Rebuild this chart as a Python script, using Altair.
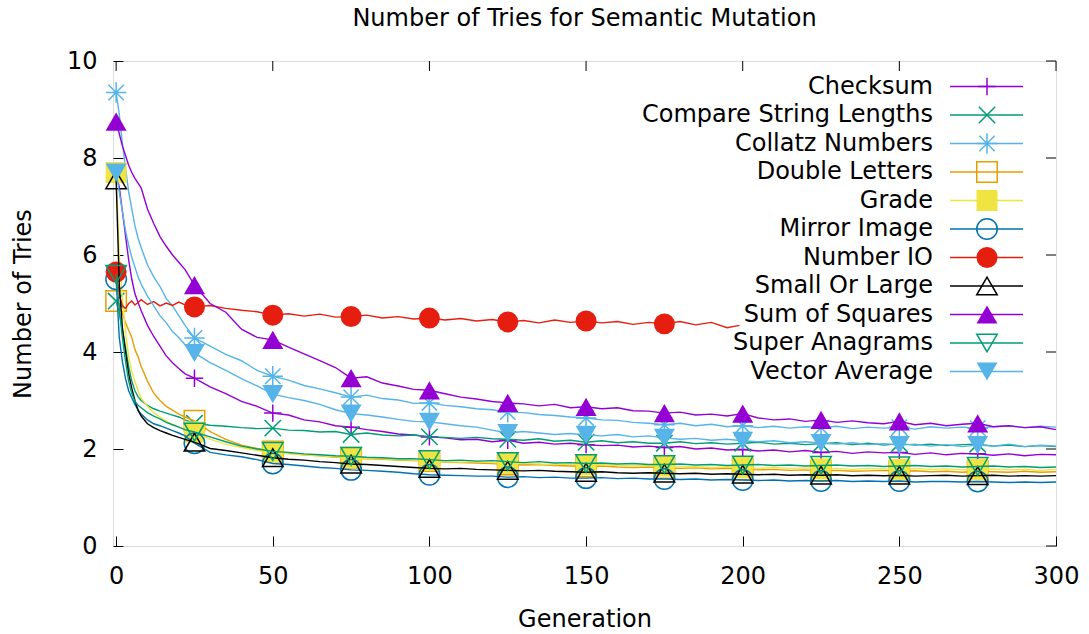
import altair as alt
import pandas as pd

# Generations at which the averaged number of tries was sampled
GENS = [0, 1, 2, 3, 4, 5, 6, 7, 8, 10, 12, 14, 16, 18, 20, 22,
        25, 30, 35, 40, 45, 50, 55, 60, 65, 70, 75, 80, 85, 90, 95, 100,
        105, 110, 115, 120, 125, 130, 135, 140, 145, 150, 155, 160, 165, 170, 175, 180,
        185, 190, 195, 200, 205, 210, 215, 220, 225, 230, 235, 240, 245, 250, 255, 260,
        265, 270, 275, 280, 285, 290, 295, 300]
# Number IO was only run for 200 generations (0..199)
NUMBER_IO_GENS = [0, 1, 2, 3, 4, 5, 6, 7, 8, 10, 12, 14, 16, 18, 20, 22,
                  25, 30, 35, 40, 45, 50, 55, 60, 65, 70, 75, 80, 85, 90, 95, 100,
                  105, 110, 115, 120, 125, 130, 135, 140, 145, 150, 155, 160, 165, 170, 175, 180,
                  185, 190, 195, 199]

CHECKSUM = [7.70, 7.40, 6.90, 6.40, 5.90, 5.50, 5.20, 5.02, 4.85, 4.55, 4.32, 4.12, 3.92, 3.78, 3.66, 3.55,
            3.46, 3.28, 3.14, 2.98, 2.88, 2.74, 2.70, 2.60, 2.56, 2.48, 2.45, 2.40, 2.36, 2.31, 2.29, 2.25,
            2.23, 2.19, 2.20, 2.15, 2.18, 2.12, 2.14, 2.10, 2.12, 2.09, 2.07, 2.08, 2.04, 2.06, 2.03, 2.05,
            2.00, 2.02, 1.98, 1.99, 1.96, 1.98, 1.94, 1.97, 1.93, 1.95, 1.91, 1.94, 1.92, 1.93, 1.89, 1.92,
            1.88, 1.91, 1.90, 1.87, 1.90, 1.86, 1.89, 1.88]
COMPARE_STRING_LENGTHS = [5.05, 4.80, 4.45, 4.10, 3.70, 3.40, 3.20, 3.08, 3.00, 2.90, 2.83, 2.78, 2.74, 2.70, 2.66, 2.60,
                          2.53, 2.49, 2.47, 2.44, 2.42, 2.43, 2.39, 2.38, 2.35, 2.36, 2.30, 2.33, 2.29, 2.27, 2.29, 2.25,
                          2.24, 2.22, 2.24, 2.21, 2.20, 2.18, 2.21, 2.16, 2.18, 2.14, 2.17, 2.13, 2.15, 2.12, 2.12, 2.15,
                          2.11, 2.13, 2.10, 2.12, 2.14, 2.10, 2.12, 2.09, 2.11, 2.13, 2.09, 2.12, 2.08, 2.11, 2.08, 2.10,
                          2.07, 2.09, 2.10, 2.06, 2.08, 2.05, 2.07, 2.05]
COLLATZ_NUMBERS = [9.35, 8.90, 8.30, 7.80, 7.30, 6.95, 6.60, 6.35, 6.15, 5.80, 5.55, 5.35, 5.10, 4.95, 4.75, 4.55,
                   4.29, 4.12, 3.95, 3.82, 3.62, 3.50, 3.42, 3.31, 3.24, 3.16, 3.07, 3.11, 3.04, 3.01, 2.94, 2.95,
                   2.90, 2.87, 2.83, 2.81, 2.76, 2.75, 2.71, 2.69, 2.66, 2.64, 2.60, 2.59, 2.55, 2.53, 2.50, 2.53,
                   2.48, 2.51, 2.46, 2.48, 2.44, 2.47, 2.43, 2.46, 2.44, 2.47, 2.42, 2.45, 2.43, 2.45, 2.41, 2.46,
                   2.43, 2.45, 2.43, 2.46, 2.48, 2.44, 2.47, 2.45]
DOUBLE_LETTERS = [5.05, 4.95, 4.80, 4.60, 4.45, 4.30, 4.05, 3.90, 3.70, 3.40, 3.15, 3.00, 2.88, 2.80, 2.72, 2.66,
                  2.58, 2.36, 2.20, 2.08, 2.01, 1.95, 1.91, 1.88, 1.86, 1.83, 1.82, 1.80, 1.79, 1.77, 1.76, 1.75,
                  1.73, 1.72, 1.71, 1.70, 1.68, 1.67, 1.68, 1.66, 1.65, 1.64, 1.65, 1.63, 1.62, 1.63, 1.61, 1.60,
                  1.61, 1.59, 1.60, 1.58, 1.57, 1.58, 1.56, 1.57, 1.55, 1.56, 1.54, 1.55, 1.56, 1.54, 1.55, 1.53,
                  1.54, 1.52, 1.54, 1.53, 1.52, 1.54, 1.52, 1.53]
GRADE = [7.70, 6.00, 5.10, 4.40, 3.90, 3.60, 3.40, 3.20, 3.05, 2.88, 2.75, 2.66, 2.58, 2.50, 2.45, 2.40,
         2.35, 2.20, 2.10, 2.03, 1.97, 1.94, 1.90, 1.88, 1.86, 1.84, 1.82, 1.80, 1.80, 1.78, 1.77, 1.76,
         1.74, 1.73, 1.74, 1.72, 1.70, 1.71, 1.69, 1.68, 1.69, 1.67, 1.68, 1.66, 1.65, 1.66, 1.65, 1.63,
         1.64, 1.62, 1.63, 1.62, 1.60, 1.62, 1.60, 1.61, 1.59, 1.60, 1.58, 1.60, 1.59, 1.58, 1.60, 1.58,
         1.59, 1.57, 1.58, 1.59, 1.57, 1.58, 1.56, 1.58]
MIRROR_IMAGE = [5.50, 4.30, 3.80, 3.45, 3.20, 3.05, 2.92, 2.80, 2.72, 2.60, 2.52, 2.48, 2.43, 2.38, 2.33, 2.27,
                2.12, 1.93, 1.88, 1.84, 1.78, 1.70, 1.68, 1.65, 1.62, 1.60, 1.57, 1.56, 1.54, 1.52, 1.49, 1.47,
                1.46, 1.45, 1.44, 1.44, 1.42, 1.43, 1.41, 1.42, 1.40, 1.40, 1.41, 1.39, 1.40, 1.38, 1.38, 1.37,
                1.38, 1.36, 1.37, 1.36, 1.35, 1.36, 1.34, 1.35, 1.34, 1.35, 1.33, 1.34, 1.33, 1.34, 1.32, 1.33,
                1.33, 1.32, 1.33, 1.32, 1.31, 1.32, 1.31, 1.32]
NUMBER_IO = [5.65, 5.20, 4.95, 4.90, 5.00, 5.05, 4.97, 5.02, 5.08, 4.98, 5.04, 4.95, 5.01, 4.96, 5.03, 4.97,
             4.93, 4.96, 4.90, 4.86, 4.83, 4.76, 4.79, 4.74, 4.78, 4.72, 4.73, 4.76, 4.70, 4.73, 4.68, 4.70,
             4.66, 4.69, 4.64, 4.67, 4.62, 4.65, 4.60, 4.66, 4.61, 4.64, 4.60, 4.63, 4.57, 4.61, 4.58, 4.63,
             4.56, 4.61, 4.50, 4.55]
SMALL_OR_LARGE = [7.55, 5.40, 4.50, 4.00, 3.55, 3.25, 3.00, 2.80, 2.68, 2.52, 2.44, 2.38, 2.33, 2.28, 2.24, 2.20,
                  2.14, 2.01, 1.97, 1.92, 1.87, 1.82, 1.79, 1.77, 1.74, 1.72, 1.69, 1.68, 1.66, 1.64, 1.62, 1.60,
                  1.59, 1.60, 1.58, 1.57, 1.56, 1.55, 1.56, 1.54, 1.53, 1.52, 1.53, 1.51, 1.50, 1.51, 1.50, 1.49,
                  1.50, 1.48, 1.49, 1.48, 1.47, 1.48, 1.46, 1.47, 1.46, 1.47, 1.45, 1.46, 1.45, 1.46, 1.44, 1.45,
                  1.46, 1.44, 1.45, 1.46, 1.44, 1.45, 1.44, 1.45]
SUM_OF_SQUARES = [8.75, 8.50, 8.25, 8.05, 7.85, 7.70, 7.58, 7.48, 7.38, 6.95, 6.65, 6.38, 6.18, 6.00, 5.85, 5.70,
                  5.38, 5.00, 4.82, 4.47, 4.30, 4.25, 4.10, 3.96, 3.82, 3.68, 3.46, 3.49, 3.36, 3.30, 3.23, 3.21,
                  3.14, 3.07, 3.03, 2.98, 2.95, 2.93, 2.89, 2.92, 2.85, 2.87, 2.83, 2.85, 2.79, 2.78, 2.74, 2.76,
                  2.70, 2.72, 2.68, 2.73, 2.64, 2.60, 2.62, 2.57, 2.60, 2.55, 2.58, 2.54, 2.52, 2.57, 2.50, 2.53,
                  2.48, 2.51, 2.53, 2.46, 2.48, 2.44, 2.46, 2.40]
SUPER_ANAGRAMS = [5.60, 4.90, 4.30, 3.80, 3.40, 3.15, 2.98, 2.90, 2.85, 2.75, 2.68, 2.62, 2.55, 2.50, 2.45, 2.40,
                  2.35, 2.25, 2.15, 2.06, 2.00, 1.95, 1.93, 1.90, 1.88, 1.86, 1.85, 1.83, 1.82, 1.80, 1.80, 1.78,
                  1.76, 1.77, 1.75, 1.76, 1.74, 1.72, 1.74, 1.71, 1.72, 1.70, 1.71, 1.69, 1.70, 1.68, 1.68, 1.69,
                  1.67, 1.68, 1.66, 1.67, 1.68, 1.66, 1.67, 1.65, 1.66, 1.67, 1.65, 1.66, 1.64, 1.65, 1.66, 1.64,
                  1.65, 1.63, 1.64, 1.65, 1.63, 1.64, 1.62, 1.63]
VECTOR_AVERAGE = [7.70, 7.30, 6.90, 6.50, 6.20, 5.95, 5.75, 5.55, 5.40, 5.15, 4.95, 4.75, 4.60, 4.42, 4.30, 4.15,
                  3.98, 3.78, 3.62, 3.45, 3.30, 3.13, 3.06, 3.00, 2.92, 2.81, 2.73, 2.70, 2.66, 2.61, 2.57, 2.56,
                  2.52, 2.48, 2.45, 2.39, 2.33, 2.36, 2.33, 2.30, 2.32, 2.29, 2.27, 2.30, 2.25, 2.27, 2.23, 2.20,
                  2.22, 2.18, 2.20, 2.17, 2.15, 2.17, 2.13, 2.15, 2.12, 2.10, 2.13, 2.09, 2.11, 2.08, 2.10, 2.06,
                  2.09, 2.05, 2.08, 2.06, 2.10, 2.05, 2.08, 2.06]

SERIES = ["Checksum", "Compare String Lengths", "Collatz Numbers", "Double Letters", "Grade",
          "Mirror Image", "Number IO", "Small Or Large", "Sum of Squares", "Super Anagrams",
          "Vector Average"]
SERIES_VALUES = [CHECKSUM, COMPARE_STRING_LENGTHS, COLLATZ_NUMBERS, DOUBLE_LETTERS, GRADE,
                 MIRROR_IMAGE, NUMBER_IO, SMALL_OR_LARGE, SUM_OF_SQUARES, SUPER_ANAGRAMS,
                 VECTOR_AVERAGE]
SERIES_GENS = [GENS, GENS, GENS, GENS, GENS, GENS, NUMBER_IO_GENS, GENS, GENS, GENS, GENS]
COLORS = ["#9400d3", "#009e73", "#56b4e9", "#e69f00", "#f0e442",
          "#0072b2", "#e51e10", "#000000", "#9400d3", "#009e73", "#56b4e9"]

# point glyphs: plus, cross, asterisk drawn as stroked paths
PLUS = "M-0.85,0H0.85M0,-0.85V0.85"
XMARK = "M-0.8,-0.8L0.8,0.8M-0.8,0.8L0.8,-0.8"
STAR = "M-1,0H1M0,-1V1M-0.75,-0.75L0.75,0.75M-0.75,0.75L0.75,-0.75"
SHAPES = [PLUS, XMARK, STAR, "square", "square", "circle", "circle",
          "triangle-up", "triangle-up", "triangle-down", "triangle-down"]
FILLED = ["Grade", "Number IO", "Sum of Squares", "Vector Average"]
OPEN = [s for s in SERIES if s not in FILLED]

X_TICKS = [0, 50, 100, 150, 200, 250, 300]
Y_TICKS = [0, 2, 4, 6, 8, 10]

FONT = "DejaVu Sans"
W, H = 943, 485

rows = []
for name, gens, vals in zip(SERIES, SERIES_GENS, SERIES_VALUES):
    for g, v in zip(gens, vals):
        rows.append({"series": name, "gen": g, "tries": v})
df = pd.DataFrame(rows)

legend_df = pd.DataFrame({"series": SERIES, "row": list(range(len(SERIES)))})

x_axis = alt.Axis(values=X_TICKS, format="d", title="Generation", tickSize=10, offset=-10,
                  domain=False, grid=False, labelFontSize=24, titleFontSize=24,
                  labelFont=FONT, titleFont=FONT, labelColor="black", titleColor="black",
                  tickColor="black", tickWidth=1, titleFontWeight="normal",
                  labelPadding=18, titlePadding=19, labelFlush=False, labelOverlap=False)
y_axis = alt.Axis(values=Y_TICKS, format="d", title="Number of Tries", tickSize=10, offset=-10,
                  domain=False, grid=False, labelFontSize=24, titleFontSize=24,
                  labelFont=FONT, titleFont=FONT, labelColor="black", titleColor="black",
                  tickColor="black", tickWidth=1, titleFontWeight="normal",
                  labelPadding=16, titlePadding=31, labelFlush=False, labelOverlap=False)

X_ENC = alt.X("gen:Q", scale=alt.Scale(domain=[-1, 300], nice=False, zero=False), axis=x_axis)
Y_ENC = alt.Y("tries:Q", scale=alt.Scale(domain=[0, 10], nice=False), axis=y_axis)
COLOR_ENC = alt.Color("series:N", scale=alt.Scale(domain=SERIES, range=COLORS), legend=None)
SHAPE_ENC = alt.Shape("series:N", scale=alt.Scale(domain=SERIES, range=SHAPES), legend=None)

base = alt.Chart(df)

# each run is drawn as its line followed by its points, one run after another
plot_layers = []
for name in SERIES:
    sel = base.transform_filter(alt.datum.series == name)
    plot_layers.append(sel.mark_line(strokeWidth=1.4).encode(x=X_ENC, y=Y_ENC, color=COLOR_ENC))
    pts = sel.transform_filter("datum.gen % 25 == 0 && datum.gen < 300")
    if name in FILLED:
        plot_layers.append(pts.mark_point(filled=True, size=440, opacity=1).encode(
            x=X_ENC, y=Y_ENC, color=COLOR_ENC, shape=SHAPE_ENC))
    else:
        plot_layers.append(pts.mark_point(filled=False, size=420, strokeWidth=1.5, opacity=1).encode(
            x=X_ENC, y=Y_ENC, color=COLOR_ENC, shape=SHAPE_ENC))

# mirrored inward ticks on the top and right borders
top_ticks = alt.Chart(pd.DataFrame({"gen": X_TICKS})).mark_rule(color="black", strokeWidth=1).encode(
    x=X_ENC, y=alt.value(0), y2=alt.value(10))
right_ticks = alt.Chart(pd.DataFrame({"tries": Y_TICKS})).mark_rule(color="black", strokeWidth=1).encode(
    y=Y_ENC, x=alt.value(W - 10), x2=alt.value(W))

# opaque key in the upper right corner
key = alt.Chart(legend_df).transform_calculate(ly="25.5 + 28.5 * datum.row")
LY = alt.Y("ly:Q", scale=None, axis=None)
key_bg = alt.Chart(pd.DataFrame({"k": [0]})).mark_rect(color="white").encode(
    x=alt.value(627), x2=alt.value(917), y=alt.value(11), y2=alt.value(325))
key_text = key.mark_text(align="right", baseline="middle", fontSize=24, font=FONT,
                         color="black").encode(x=alt.value(820), y=LY, text="series:N")
key_lines = key.mark_rule(strokeWidth=1.4).encode(
    x=alt.value(837), x2=alt.value(910), y=LY, color=COLOR_ENC)
key_open = key.transform_filter(alt.FieldOneOfPredicate(field="series", oneOf=OPEN)).mark_point(
    filled=False, size=420, strokeWidth=1.5, opacity=1).encode(
    x=alt.value(874), y=LY, color=COLOR_ENC, shape=SHAPE_ENC)
key_filled = key.transform_filter(alt.FieldOneOfPredicate(field="series", oneOf=FILLED)).mark_point(
    filled=True, size=440, opacity=1).encode(
    x=alt.value(874), y=LY, color=COLOR_ENC, shape=SHAPE_ENC)

chart = alt.layer(
    *plot_layers, top_ticks, right_ticks,
    key_bg, key_lines, key_text, key_open, key_filled
).properties(
    width=W, height=H,
    title=alt.TitleParams("Number of Tries for Semantic Mutation", fontSize=24, font=FONT,
                          fontWeight="normal", anchor="middle", offset=18, color="black"),
    autosize=alt.AutoSizeParams(type="none"),
    padding={"left": 113, "top": 61, "right": 33, "bottom": 88},
).configure_view(
    stroke="black", strokeWidth=1.5
).configure(background="white")

chart.save("out.html", embed_options={"renderer": "svg", "actions": False})
